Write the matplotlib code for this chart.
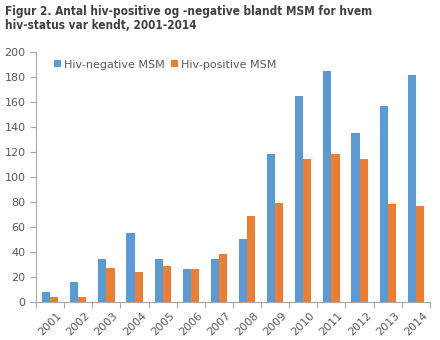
import numpy as np
import matplotlib.pyplot as plt

years = ['2001', '2002', '2003', '2004', '2005', '2006', '2007',
         '2008', '2009', '2010', '2011', '2012', '2013', '2014']
hiv_neg = [8, 16, 34, 55, 34, 26, 34, 50, 118, 165, 185, 135, 157, 182]
hiv_pos = [4, 4, 27, 24, 29, 26, 38, 69, 79, 114, 118, 114, 78, 77]

blue = '#5B9BD5'
orange = '#ED7D31'
grey = '#595959'

fig = plt.figure(figsize=(4.4, 3.4), dpi=100)
ax = fig.add_axes([0.082, 0.112, 0.895, 0.735])

x = np.arange(len(years))
w = 0.29
ax.bar(x - w / 2, hiv_neg, w, color=blue, label='Hiv-negative MSM')
ax.bar(x + w / 2, hiv_pos, w, color=orange, label='Hiv-positive MSM')

ax.set_xlim(-0.5, len(years) - 0.5)
ax.set_ylim(0, 200)
ax.set_yticks(range(0, 201, 20))
ax.tick_params(axis='y', labelsize=8, colors='#A6A6A6', labelcolor=grey, length=4)

# category tick marks sit between the groups
ax.set_xticks(np.arange(-0.5, len(years)), minor=False)
ax.set_xticklabels([])
ax.set_xticks(x, minor=True)
ax.set_xticklabels(years, minor=True, rotation=45, fontsize=8, color=grey)
ax.tick_params(axis='x', which='major', length=4, colors='#A6A6A6')
ax.tick_params(axis='x', which='minor', length=0, pad=6)

for s in ['top', 'right']:
    ax.spines[s].set_visible(False)
for s in ['left', 'bottom']:
    ax.spines[s].set_color('#A6A6A6')

ax.legend(loc='upper left', bbox_to_anchor=(0.02, 1.01), ncol=2, frameon=False,
          fontsize=8, handlelength=0.6, handleheight=0.6, handletextpad=0.3,
          columnspacing=0.6, labelcolor=grey)

fig.text(0.012, 0.985, 'Figur 2. Antal hiv-positive og -negative blandt MSM for hvem\nhiv-status var kendt, 2001-2014',
         fontsize=8.5, fontweight='bold', fontstretch='condensed', family='DejaVu Sans',
         color='#404040', va='top', ha='left', linespacing=1.1)

fig.savefig('out.png', dpi=100)
